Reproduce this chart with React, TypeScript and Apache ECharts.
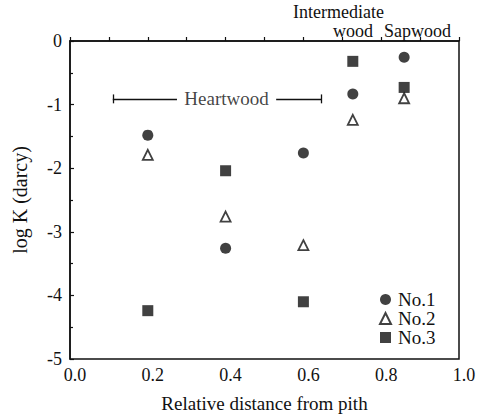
import React, { useEffect, useRef } from "react";
import * as echarts from "echarts";

const xPositions = [0.2, 0.4, 0.6, 0.727, 0.859];
const no1 = [-1.48, -3.26, -1.76, -0.835, -0.255];
const no2 = [-1.79, -2.76, -3.21, -1.24, -0.9];
const no3 = [-4.24, -2.04, -4.1, -0.32, -0.73];
const xTicks = ["0.0", "0.2", "0.4", "0.6", "0.8", "1.0"];
const heartwoodStart = 0.11;
const heartwoodEnd = 0.647;
const heartwoodGapStart = 0.275;
const heartwoodGapEnd = 0.53;
const heartwoodY = -0.91;

const FONT = "Liberation Serif, Times New Roman, serif";
const INK = "#111";

function pairs(vals: number[]) {
  return xPositions.map((x, i) => [x, vals[i]]);
}

export default function App() {
  const ref = useRef<HTMLDivElement>(null);
  useEffect(() => {
    if (!ref.current) return;
    const chart = echarts.init(ref.current, undefined, { renderer: "svg" });
    chart.setOption({
      animation: false,
      backgroundColor: "#fff",
      textStyle: { fontFamily: FONT, color: INK },
      grid: {
        left: 70,
        right: 28,
        top: 41,
        bottom: 58,
        show: true,
        borderColor: INK,
        borderWidth: 1.5,
        backgroundColor: "transparent",
      },
      xAxis: {
        type: "value",
        min: 0,
        max: 1,
        interval: 0.2,
        name: "Relative distance from pith",
        nameLocation: "middle",
        nameGap: 35,
        nameTextStyle: { fontSize: 19, fontFamily: FONT, color: INK },
        axisLine: { show: true, lineStyle: { color: INK, width: 1.5 } },
        axisTick: { show: true, inside: true, length: 4, lineStyle: { color: INK, width: 1.2 } },
        minorTick: { show: true, splitNumber: 2, length: 4, lineStyle: { color: INK, width: 1.2 } },
        splitLine: { show: false },
        axisLabel: {
          fontSize: 18,
          fontFamily: FONT,
          color: INK,
          margin: 7,
          padding: [0, 0, 0, 10],
          formatter: (v: number) => xTicks[Math.round(v / 0.2)] ?? v.toFixed(1),
        },
      },
      yAxis: {
        type: "value",
        min: -5,
        max: 0,
        interval: 1,
        name: "log K (darcy)",
        nameLocation: "middle",
        nameGap: 40,
        nameTextStyle: { fontSize: 20, fontFamily: FONT, color: INK },
        axisLine: { show: true, lineStyle: { color: INK, width: 1.5 } },
        axisTick: { show: true, inside: true, length: 4, lineStyle: { color: INK, width: 1.2 } },
        minorTick: { show: true, splitNumber: 2, length: 3, lineStyle: { color: INK, width: 1.2 } },
        splitLine: { show: false },
        axisLabel: { fontSize: 18, fontFamily: FONT, color: INK, margin: 8 },
      },
      legend: {
        orient: "vertical",
        left: 374,
        top: 285,
        itemWidth: 11,
        itemHeight: 11,
        itemGap: 0,
        textStyle: { fontSize: 19, fontFamily: FONT, color: INK, lineHeight: 19, padding: [0, 0, 0, 2] },
        data: [
          { name: "No.1", icon: "circle" },
          { name: "No.2", icon: "triangle" },
          { name: "No.3", icon: "rect" },
        ],
      },
      graphic: [
        {
          type: "text",
          left: 293,
          top: 3,
          style: { text: "Intermediate", fontSize: 18, lineHeight: 18, fontFamily: FONT, fill: INK },
        },
        {
          type: "text",
          left: 333,
          top: 21.5,
          style: { text: "wood", fontSize: 18, lineHeight: 18, fontFamily: FONT, fill: INK },
        },
        {
          type: "text",
          left: 384,
          top: 21.5,
          style: { text: "Sapwood", fontSize: 18, lineHeight: 18, fontFamily: FONT, fill: INK },
        },
      ],
      series: [
        {
          name: "No.1",
          type: "scatter",
          symbol: "circle",
          symbolSize: 11,
          itemStyle: { color: INK },
          data: pairs(no1),
          z: 3,
        },
        {
          name: "No.2",
          type: "scatter",
          symbol: "triangle",
          symbolSize: 10,
          itemStyle: { color: "#fff", borderColor: INK, borderWidth: 1.8 },
          data: pairs(no2),
          z: 3,
        },
        {
          name: "No.3",
          type: "scatter",
          symbol: "rect",
          symbolSize: 11,
          itemStyle: { color: INK },
          data: pairs(no3),
          z: 3,
        },
        {
          name: "Heartwood",
          type: "scatter",
          symbolSize: 0,
          data: [[(heartwoodGapStart + heartwoodGapEnd) / 2, heartwoodY]],
          label: {
            show: true,
            position: "inside",
            formatter: "Heartwood",
            fontSize: 19,
            fontFamily: FONT,
            color: INK,
          },
          silent: true,
          z: 4,
          markLine: {
            silent: true,
            symbol: ["none", "none"],
            label: { show: false },
            lineStyle: { color: INK, width: 1.3, type: "solid" },
            data: [
              [{ coord: [heartwoodStart, heartwoodY] }, { coord: [heartwoodGapStart, heartwoodY] }],
              [{ coord: [heartwoodGapEnd, heartwoodY] }, { coord: [heartwoodEnd, heartwoodY] }],
              [{ coord: [heartwoodStart, heartwoodY - 0.07] }, { coord: [heartwoodStart, heartwoodY + 0.07] }],
              [{ coord: [heartwoodEnd, heartwoodY - 0.07] }, { coord: [heartwoodEnd, heartwoodY + 0.07] }],
            ],
          },
        },
      ],
    });
    return () => chart.dispose();
  }, []);
  return <div ref={ref} style={{ position: "fixed", left: 0, top: 0, width: 487, height: 418 }} />;
}
